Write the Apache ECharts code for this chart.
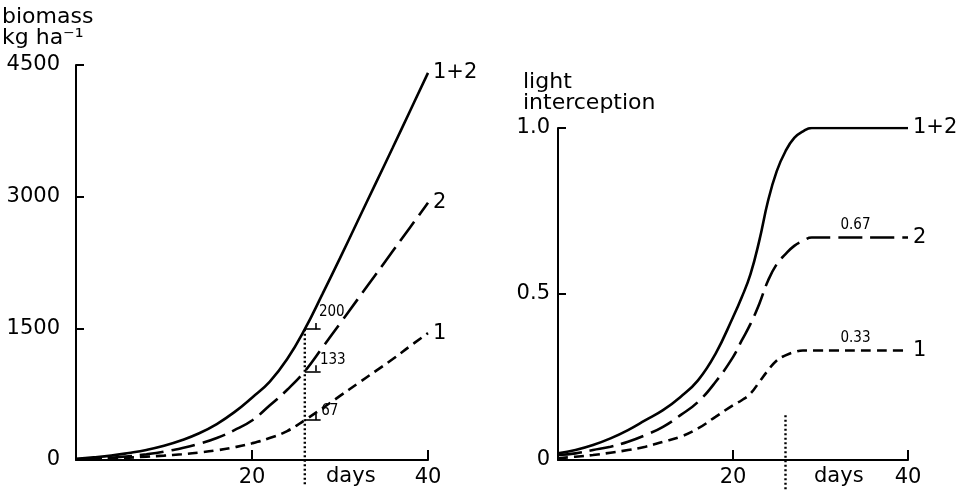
<!DOCTYPE html>
<html><head><meta charset="utf-8">
<script src="https://cdn.jsdelivr.net/npm/echarts@6/dist/echarts.min.js"></script>
<style>html,body{margin:0;padding:0;background:#fff}#c{width:960px;height:490px}</style>
</head><body><div id="c"></div>
<script>
// ---- data ----
const daysBio = [0,2,4,6,8,10,12,14,16,18,20,22,24,26,28,30,32,34,36,38,40];
const bio12 = [15,30,50,80,115,162,225,305,410,545,710,890,1150,1490,1890,2300,2720,3140,3560,3985,4410];
const bio2  = [8,15,25,42,65,95,135,185,250,340,450,620,800,1010,1280,1555,1830,2105,2380,2655,2930];
const bio1  = [5,10,18,27,38,50,65,85,110,145,190,250,330,455,590,730,870,1010,1150,1300,1445];

const daysLI = [0,2,4,6,8,10,12,14,16,18,20,21,22,23,24,25,26,27,28,29,30,32,34,36,38,40];
const li12 = [0.02,0.03,0.045,0.065,0.09,0.12,0.15,0.19,0.24,0.32,0.43,0.49,0.56,0.66,0.78,0.87,0.93,0.97,0.99,1.0,1.0,1.0,1.0,1.0,1.0,1.0];
const li2  = [0.015,0.02,0.03,0.04,0.055,0.075,0.1,0.135,0.175,0.235,0.31,0.36,0.41,0.47,0.54,0.59,0.62,0.645,0.66,0.67,0.67,0.67,0.67,0.67,0.67,0.67];
const li1  = [0.005,0.01,0.015,0.022,0.03,0.04,0.055,0.07,0.095,0.13,0.165,0.18,0.2,0.235,0.27,0.3,0.315,0.325,0.33,0.33,0.33,0.33,0.33,0.33,0.33,0.33];

const seriesNames = ['1+2','2','1'];
const bioTicks = [0,1500,3000,4500];
const liTicks = [0,0.5,1.0];
const markDay = 26;
const bioSlopeVals = [1490, 1010, 455];
const bioSlopeLabels = ['200','133','67'];
const liPlateaus = [0.67, 0.33];
const liPlateauLabels = ['0.67','0.33'];
const bioDotted = [1490, -300];
const liDotted = [0.135, -0.09];

// ---- chart ----
const FONT = 'DejaVu Sans';
const SMALL = '"DejaVu Sans Condensed", "DejaVu Sans"';
const chart = echarts.init(document.getElementById('c'));
const pair = (xs, ys) => xs.map((x,i)=>[x, ys[i]]);
const dashes = [null, [24,8], [10,6]];

function mkLine(name, xIdx, data, k, extra){
  return Object.assign({
    type:'line', name, xAxisIndex:xIdx, yAxisIndex:xIdx, data,
    showSymbol:false, symbol:'none', smooth:0.45, silent:true,
    lineStyle:{color:'#000', width:2.6, type: dashes[k] || 'solid', cap:'butt'},
    endLabel:{show:true, formatter:name, color:'#000', fontFamily:FONT, fontSize:21, distance:5},
    z:3
  }, extra||{});
}

const clear = {color:'rgba(0,0,0,0)', borderWidth:0};
const slopeOffsets = [[27,-17],[28,-11],[25,-9]];
const bioSeries = [bio12, bio2, bio1].map((ys,k)=>{
  const extra = {
    markLine:{silent:true, symbol:'none', label:{show:false},
      lineStyle:{color:'#000', type:'solid', width:1.6},
      data:[
        [{coord:[markDay, bioSlopeVals[k]]},{coord:[markDay+1.8, bioSlopeVals[k]]}],
        [{coord:[markDay+1.3, bioSlopeVals[k]]},{coord:[markDay+1.3, bioSlopeVals[k]+70]}]
      ]},
    markPoint:{silent:true, symbol:'rect', symbolSize:2, itemStyle:clear,
      data:[{coord:[markDay, bioSlopeVals[k]], value:bioSlopeLabels[k]}],
      label:{show:true, position:'inside', formatter:bioSlopeLabels[k], offset:slopeOffsets[k],
        color:'#000', fontFamily:SMALL, fontSize:15}}
  };
  return mkLine(seriesNames[k], 0, pair(daysBio, ys), k, extra);
});
const liSeries = [li12, li2, li1].map((ys,k)=>{
  const extra = {};
  if (k>0){
    extra.markPoint = {silent:true, symbol:'rect', symbolSize:2, itemStyle:clear,
      data:[{coord:[34, liPlateaus[k-1]], value:liPlateauLabels[k-1]}],
      label:{show:true, position:'inside', formatter:liPlateauLabels[k-1], offset:[0,-12],
        color:'#000', fontFamily:SMALL, fontSize:15}};
  }
  return mkLine(seriesNames[k], 1, pair(daysLI, ys), k, extra);
});

const dotStyle = {color:'#000', width:2.4, type:[2,2.5]};
const dottedSeries = [
  {type:'line', xAxisIndex:0, yAxisIndex:0, data:[[markDay,bioDotted[0]],[markDay,bioDotted[1]]], clip:false, showSymbol:false, symbol:'none', silent:true, lineStyle:dotStyle, z:2},
  {type:'line', xAxisIndex:1, yAxisIndex:1, data:[[markDay,liDotted[0]],[markDay,liDotted[1]]], clip:false, showSymbol:false, symbol:'none', silent:true, lineStyle:dotStyle, z:2}
];

const axisLine = {show:true, onZero:false, lineStyle:{color:'#000', width:2}};
const labelStyle = {color:'#000', fontFamily:FONT, fontSize:21};
function xAx(i){
  return {type:'value', gridIndex:i, min:0, max:40, interval:20,
    axisLine, splitLine:{show:false},
    axisTick:{show:true, inside:true, length:10, lineStyle:{color:'#000', width:2}},
    axisLabel:Object.assign({margin:7, formatter:v=> v===0 ? '' : String(v)}, labelStyle)};
}
function yAx(i, max, interval, fmt, margin){
  return {type:'value', gridIndex:i, min:0, max, interval,
    axisLine, splitLine:{show:false},
    axisTick:{show:true, inside:true, length:8, lineStyle:{color:'#000', width:2}},
    axisLabel:Object.assign({margin, formatter:fmt}, labelStyle)};
}

const txt = (x,y,s,size)=>({type:'text', left:x, top:y, silent:true,
  style:{text:s, fill:'#000', font:`${size||21}px "${FONT}"`}});

chart.setOption({
  animation:false,
  backgroundColor:'#fff',
  grid:[
    {left:76, top:65, width:352, height:395},
    {left:558, top:128, width:350, height:332}
  ],
  xAxis:[xAx(0), xAx(1)],
  yAxis:[
    yAx(0, bioTicks[bioTicks.length-1], bioTicks[1]-bioTicks[0], v=>String(v), 16),
    yAx(1, liTicks[liTicks.length-1], liTicks[1]-liTicks[0], v=> v===0 ? '0' : v.toFixed(1), 8)
  ],
  series:[...bioSeries, ...liSeries, ...dottedSeries],
  graphic:[
    txt(2, 6, 'biomass', 22),
    txt(2, 27, 'kg ha⁻¹', 22),
    txt(523, 71, 'light', 22),
    txt(523, 92, 'interception', 22),
    txt(326, 466, 'days'),
    txt(814, 466, 'days')
  ]
});
</script></body></html>
